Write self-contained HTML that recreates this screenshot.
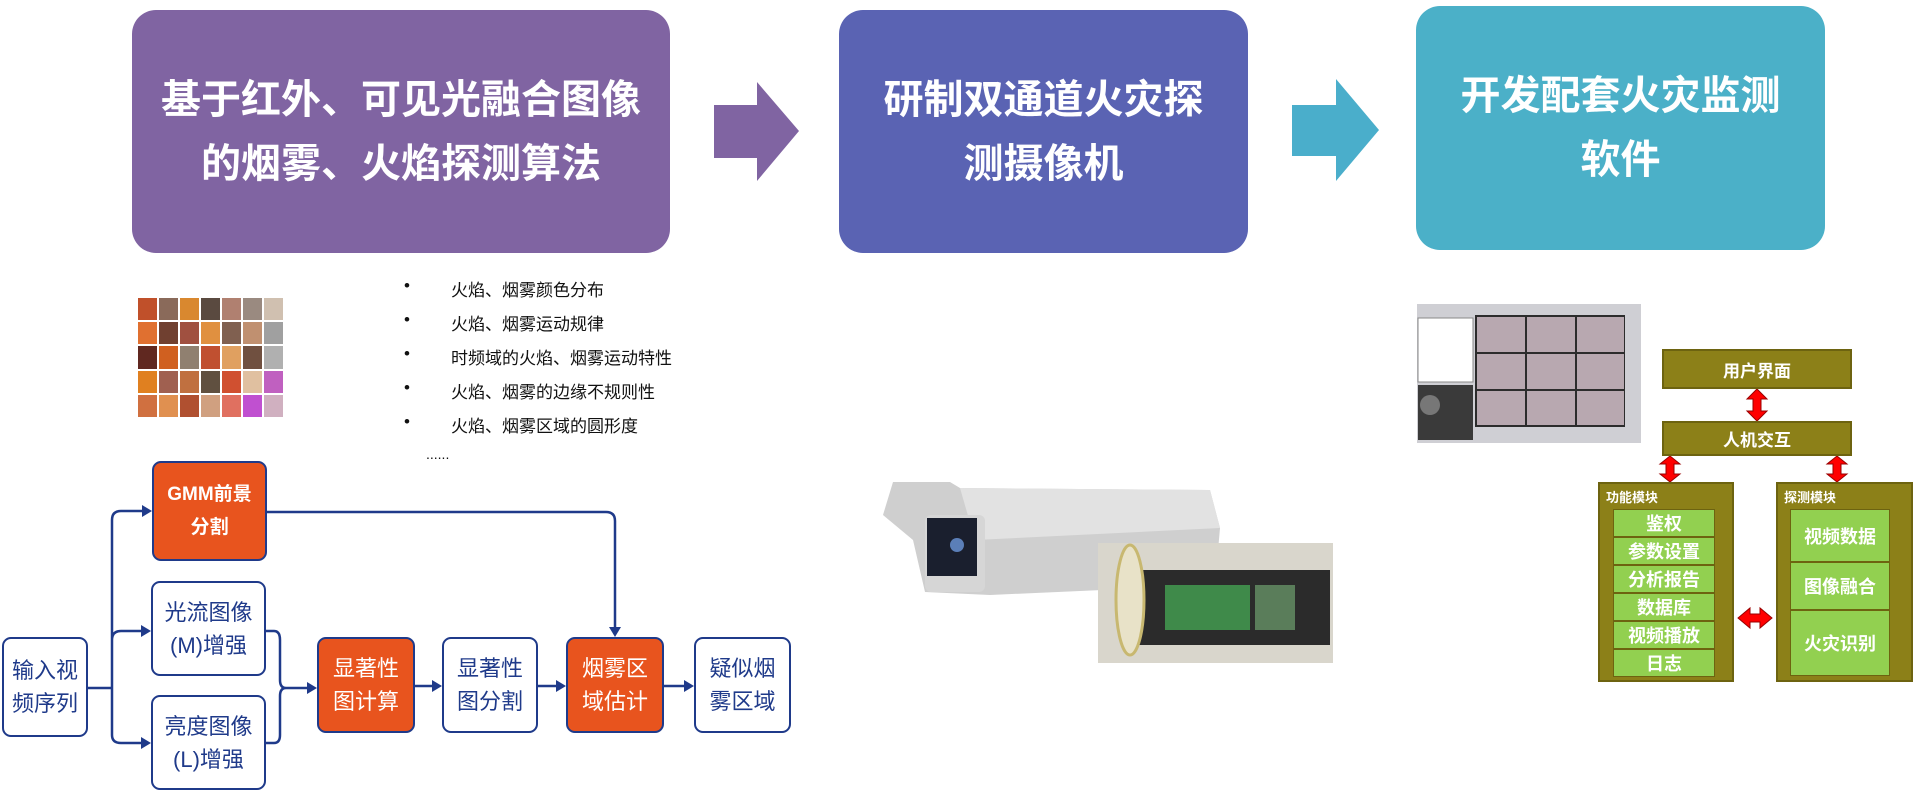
<!DOCTYPE html>
<html><head><meta charset="utf-8"><style>
body{margin:0;width:1913px;height:792px;background:#fff;position:relative;overflow:hidden;font-family:"Liberation Sans","Noto Sans CJK SC",sans-serif}
.a{position:absolute;box-sizing:border-box}
.big{display:flex;align-items:center;justify-content:center;text-align:center;color:#fff;font-weight:bold;font-size:40px;line-height:64px;border-radius:24px}
.fb{border:2.5px solid #1f3a8a;border-radius:9px;display:flex;align-items:center;justify-content:center;text-align:center;font-size:22px;line-height:33px;color:#1f3a8a;background:#fff}
.or{background:#e8541e;color:#fff}
.bl{font-size:17px;color:#111}
.ol{background:#8c8018;border:2px solid #6d6310;color:#fff;font-weight:bold}
.gr{background:#92d050;border:1.5px solid #6d6310;color:#fff;font-weight:bold;font-size:18px;display:flex;align-items:center;justify-content:center}
</style></head><body>
<div class="a big" style="left:132px;top:10px;width:538px;height:243px;background:#8064a2">基于红外、可见光融合图像<br>的烟雾、火焰探测算法</div>
<div class="a big" style="left:839px;top:10px;width:409px;height:243px;background:#5a63b3">研制双通道火灾探<br>测摄像机</div>
<div class="a big" style="left:1416px;top:6px;width:409px;height:244px;background:#4bb0c8">开发配套火灾监测<br>软件</div>
<svg class="a" style="left:0;top:0" width="1913" height="792">
<polygon points="714,105 757,105 757,82 799,131 757,181 757,158 714,158" fill="#8064a2"/>
<polygon points="1292,105 1336,105 1336,79 1379,130 1336,181 1336,156 1292,156" fill="#4aaecb"/>
<g stroke="#1f3a8a" stroke-width="2.5" fill="none">
<path d="M88,688 H112 M112,688 V520 Q112,511 121,511 H148 M112,688 V640 Q112,631 121,631 H148 M112,688 V735 Q112,743 121,743 H148"/>
<path d="M266,631 H274 Q280,631 280,640 V680 Q280,688 286,688 H312 M266,743 H274 Q280,743 280,735 V696 Q280,688 286,688"/>
<path d="M415,686 H437 M538,686 H561 M664,686 H689"/>
<path d="M267,512 H606 Q615,512 615,521 V632"/>
</g>
<g fill="#1f3a8a">
<polygon points="152,511 142,505 142,517"/><polygon points="151,631 141,625 141,637"/><polygon points="151,743 141,737 141,749"/>
<polygon points="317,688 307,682 307,694"/><polygon points="442,686 432,680 432,692"/><polygon points="566,686 556,680 556,692"/><polygon points="694,686 684,680 684,692"/>
<polygon points="615,637 609,627 621,627"/>
</g>
<g fill="#f00" stroke="#900" stroke-width="1">
<polygon points="1757,389 1767,399 1761,399 1761,411 1767,411 1757,421 1747,411 1753,411 1753,399 1747,399"/>
<polygon points="1670,456 1680,464 1674,464 1674,474 1680,474 1670,482 1660,474 1666,474 1666,464 1660,464"/>
<polygon points="1837,456 1847,464 1841,464 1841,474 1847,474 1837,482 1827,474 1833,474 1833,464 1827,464"/>
<polygon points="1738,618 1750,608 1750,614 1760,614 1760,608 1772,618 1760,628 1760,622 1750,622 1750,628"/>
</g>
<!-- camera -->
<polygon points="893,482 950,482 960,488 1210,490 1220,528 1215,585 990,595 925,592 913,540 883,515" fill="#cfcfcf"/>
<polygon points="960,488 1210,490 1220,528 975,540" fill="#e2e2e2"/>
<rect x="925" y="515" width="60" height="77" rx="6" fill="#d6d6d6"/>
<rect x="927" y="518" width="50" height="58" fill="#1a1f2e"/>
<circle cx="957" cy="545" r="7" fill="#5b7fb8"/>
<rect x="1098" y="543" width="235" height="120" fill="#d9d6cc"/>
<rect x="1130" y="570" width="200" height="75" fill="#2b2b2b"/>
<rect x="1165" y="585" width="85" height="45" fill="#3f8a4a"/>
<rect x="1255" y="585" width="40" height="45" fill="#5a7d5a"/>
<ellipse cx="1130" cy="600" rx="14" ry="55" fill="#e8e2c8" stroke="#c8b870" stroke-width="3"/>
<!-- screenshot -->
<rect x="1417" y="304" width="224" height="139" fill="#cfcfd4"/>
<rect x="1418" y="318" width="55" height="64" fill="#fff" stroke="#888"/>
<rect x="1418" y="385" width="55" height="55" fill="#3a3a3a"/>
<circle cx="1430" cy="405" r="10" fill="#777"/>
<rect x="1475" y="315" width="150" height="112" fill="#2c2c2c"/>
<g fill="#b8a8b0"><rect x="1477" y="317" width="48" height="35"/><rect x="1527" y="317" width="48" height="35"/><rect x="1577" y="317" width="47" height="35"/>
<rect x="1477" y="354" width="48" height="35"/><rect x="1527" y="354" width="48" height="35"/><rect x="1577" y="354" width="47" height="35"/>
<rect x="1477" y="391" width="48" height="34"/><rect x="1527" y="391" width="48" height="34"/><rect x="1577" y="391" width="47" height="34"/></g>
<!-- fire grid -->
<g id="fg"></g>
</svg>
<div class="a" style="left:138px;top:298px;width:145px;height:119px;display:grid;grid-template-columns:repeat(7,1fr);grid-template-rows:repeat(5,1fr);gap:2px">
<div style="background:#c0502a"></div><div style="background:#8a6a5a"></div><div style="background:#d9882f"></div><div style="background:#5a4a40"></div><div style="background:#b08070"></div><div style="background:#9a8a80"></div><div style="background:#d0c0b0"></div>
<div style="background:#e07030"></div><div style="background:#704030"></div><div style="background:#a05040"></div><div style="background:#e09040"></div><div style="background:#806050"></div><div style="background:#c09070"></div><div style="background:#a0a0a0"></div>
<div style="background:#602820"></div><div style="background:#d06020"></div><div style="background:#908070"></div><div style="background:#c05030"></div><div style="background:#e0a060"></div><div style="background:#705040"></div><div style="background:#b0b0b0"></div>
<div style="background:#e08020"></div><div style="background:#a06050"></div><div style="background:#c07040"></div><div style="background:#605040"></div><div style="background:#d05030"></div><div style="background:#e0c0a0"></div><div style="background:#c060c0"></div>
<div style="background:#d07040"></div><div style="background:#e09050"></div><div style="background:#b05030"></div><div style="background:#d0a080"></div><div style="background:#e07060"></div><div style="background:#c050d0"></div><div style="background:#d0b0c0"></div>
</div>
<div class="a bl" style="left:404px;top:276px">•</div><div class="a bl" style="left:451px;top:276px">火焰、烟雾颜色分布</div>
<div class="a bl" style="left:404px;top:310px">•</div><div class="a bl" style="left:451px;top:310px">火焰、烟雾运动规律</div>
<div class="a bl" style="left:404px;top:344px">•</div><div class="a bl" style="left:451px;top:344px">时频域的火焰、烟雾运动特性</div>
<div class="a bl" style="left:404px;top:378px">•</div><div class="a bl" style="left:451px;top:378px">火焰、烟雾的边缘不规则性</div>
<div class="a bl" style="left:404px;top:412px">•</div><div class="a bl" style="left:451px;top:412px">火焰、烟雾区域的圆形度</div>
<div class="a bl" style="left:426px;top:446px;font-size:14px">......</div>
<div class="a fb" style="left:2px;top:637px;width:86px;height:100px">输入视<br>频序列</div>
<div class="a fb or" style="left:152px;top:461px;width:115px;height:100px;font-size:19px;font-weight:bold">GMM前景<br>分割</div>
<div class="a fb" style="left:151px;top:581px;width:115px;height:95px">光流图像<br>(M)增强</div>
<div class="a fb" style="left:151px;top:695px;width:115px;height:95px">亮度图像<br>(L)增强</div>
<div class="a fb or" style="left:317px;top:637px;width:98px;height:96px">显著性<br>图计算</div>
<div class="a fb" style="left:442px;top:637px;width:96px;height:96px">显著性<br>图分割</div>
<div class="a fb or" style="left:566px;top:637px;width:98px;height:96px">烟雾区<br>域估计</div>
<div class="a fb" style="left:694px;top:637px;width:97px;height:96px">疑似烟<br>雾区域</div>
<div class="a ol" style="left:1662px;top:349px;width:190px;height:40px;display:flex;align-items:center;justify-content:center;font-size:17px">用户界面</div>
<div class="a ol" style="left:1662px;top:421px;width:190px;height:35px;display:flex;align-items:center;justify-content:center;font-size:17px">人机交互</div>
<div class="a ol" style="left:1598px;top:482px;width:136px;height:200px;font-size:13px;padding:3px 6px">功能模块</div>
<div class="a ol" style="left:1776px;top:482px;width:137px;height:200px;font-size:13px;padding:3px 6px">探测模块</div>
<div class="a" style="left:1613px;top:509px;width:102px;height:167px;display:flex;flex-direction:column">
<div class="gr" style="flex:1">鉴权</div><div class="gr" style="flex:1">参数设置</div><div class="gr" style="flex:1">分析报告</div><div class="gr" style="flex:1">数据库</div><div class="gr" style="flex:1">视频播放</div><div class="gr" style="flex:1">日志</div></div>
<div class="a" style="left:1790px;top:509px;width:100px;height:167px;display:flex;flex-direction:column">
<div class="gr" style="height:51px">视频数据</div><div class="gr" style="height:46px">图像融合</div><div class="gr" style="flex:1">火灾识别</div></div>
</body></html>
